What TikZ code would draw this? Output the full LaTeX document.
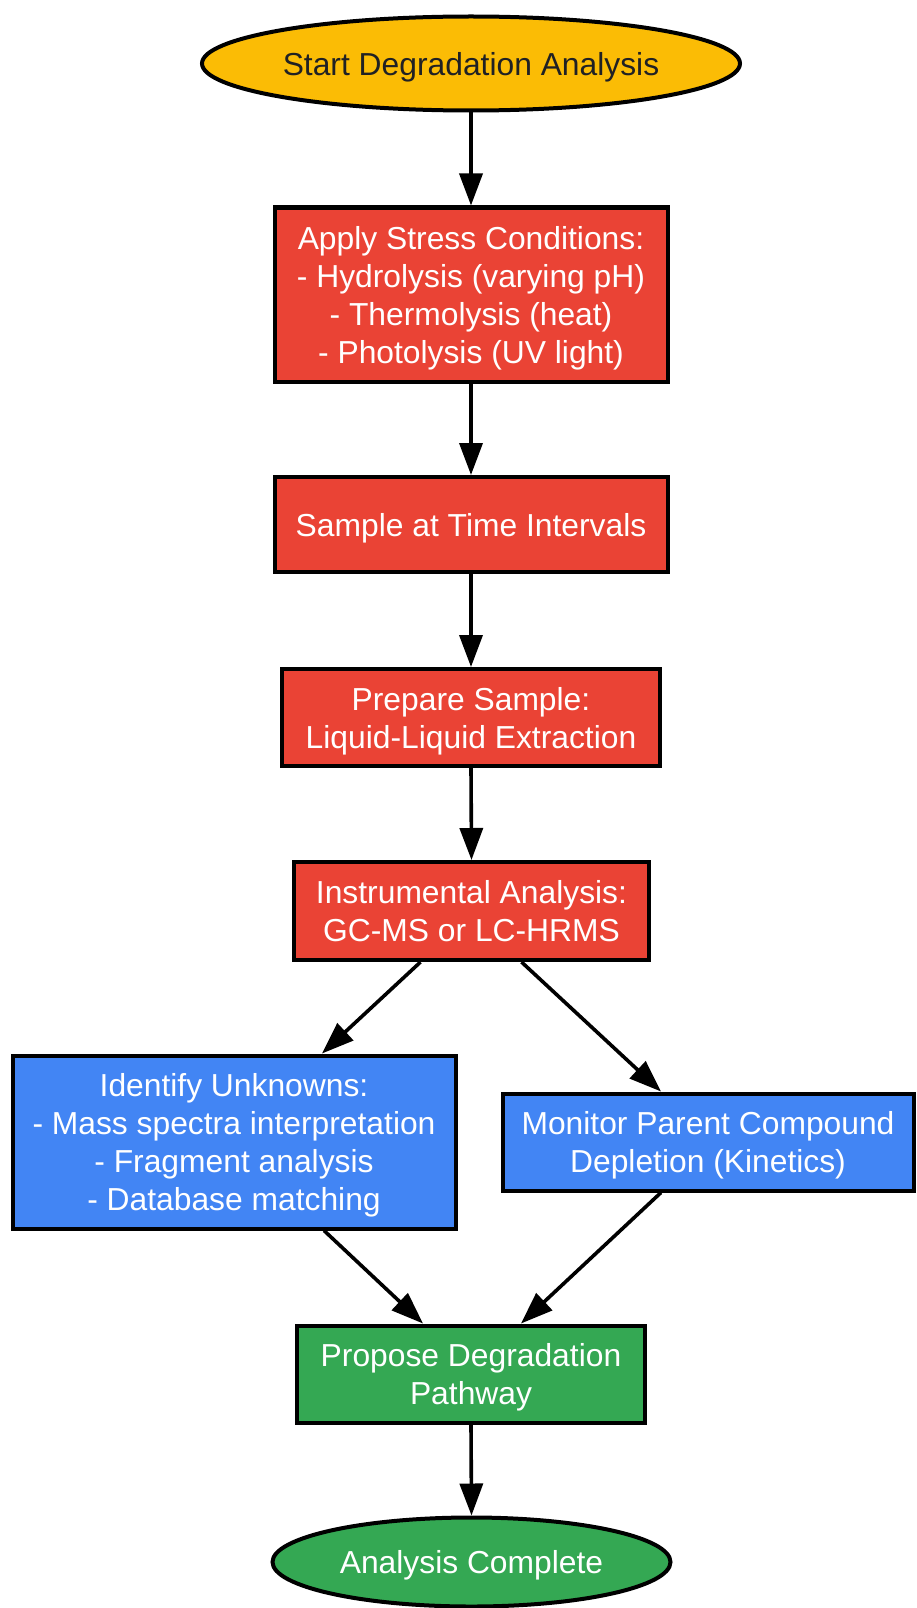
\documentclass[tikz,border=0pt]{standalone}
\usepackage{fontspec}
\setmainfont{Liberation Sans}
\usetikzlibrary{arrows.meta,shapes.geometric}
\definecolor{gyellow}{HTML}{FBBC05}
\definecolor{gred}{HTML}{EA4335}
\definecolor{gblue}{HTML}{4285F4}
\definecolor{ggreen}{HTML}{34A853}
\definecolor{darktext}{HTML}{202124}
\tikzset{
  base/.style={draw=black, line width=4pt, inner sep=0pt, align=center,
    text depth=-1.5pt, font=\fontsize{31.8}{38}\selectfont},
  terminal/.style={base, ellipse},
  procbox/.style={base, rectangle, text=white},
  conn/.style={line width=3.6pt, -{Triangle[length=32pt,width=23pt]}}
}
\begin{document}
\begin{tikzpicture}[x=1pt,y=-1pt]
\useasboundingbox (0,0) rectangle (916,1608);
\node[terminal, fill=gyellow, text=darktext, minimum width=538, minimum height=94] (start) at (471,63.5) {Start Degradation Analysis};
\node[procbox, fill=gred, minimum width=393, minimum height=174] (b1) at (471,294.5) {Apply Stress Conditions:\\- Hydrolysis (varying pH)\\- Thermolysis (heat)\\- Photolysis (UV light)};
\node[procbox, fill=gred, minimum width=393, minimum height=95] (b2) at (471,524.5) {Sample at Time Intervals};
\node[procbox, fill=gred, minimum width=378, minimum height=97] (b3) at (471,717.5) {Prepare Sample:\\Liquid-Liquid Extraction};
\node[procbox, fill=gred, minimum width=355, minimum height=98] (b4) at (471.5,911) {Instrumental Analysis:\\GC-MS or LC-HRMS};
\node[procbox, fill=gblue, minimum width=443, minimum height=173] (b5) at (234,1142) {Identify Unknowns:\\- Mass spectra interpretation\\- Fragment analysis\\- Database matching};
\node[procbox, fill=gblue, minimum width=411, minimum height=97] (b6) at (708,1142) {Monitor Parent Compound\\Depletion (Kinetics)};
\node[procbox, fill=ggreen, minimum width=348, minimum height=97] (b7) at (471,1374) {Propose Degradation\\Pathway};
\node[terminal, fill=ggreen, text=white, minimum width=398, minimum height=89] (end) at (471.5,1562) {Analysis Complete};
\draw[conn] (start.south) -- (b1.north);
\draw[conn] (b1.south) -- (b2.north);
\draw[conn] (b2.south) -- (b3.north);
\draw[conn] (b3.south) -- (b4.north);
\draw[conn] ([xshift=-51]b4.south) -- ([xshift=88]b5.north);
\draw[conn] ([xshift=50]b4.south) -- ([xshift=-47]b6.north);
\draw[conn] ([xshift=90]b5.south) -- ([xshift=-48]b7.north);
\draw[conn] ([xshift=-47]b6.south) -- ([xshift=50]b7.north);
\draw[conn] (b7.south) -- (end.north);
\end{tikzpicture}
\end{document}
